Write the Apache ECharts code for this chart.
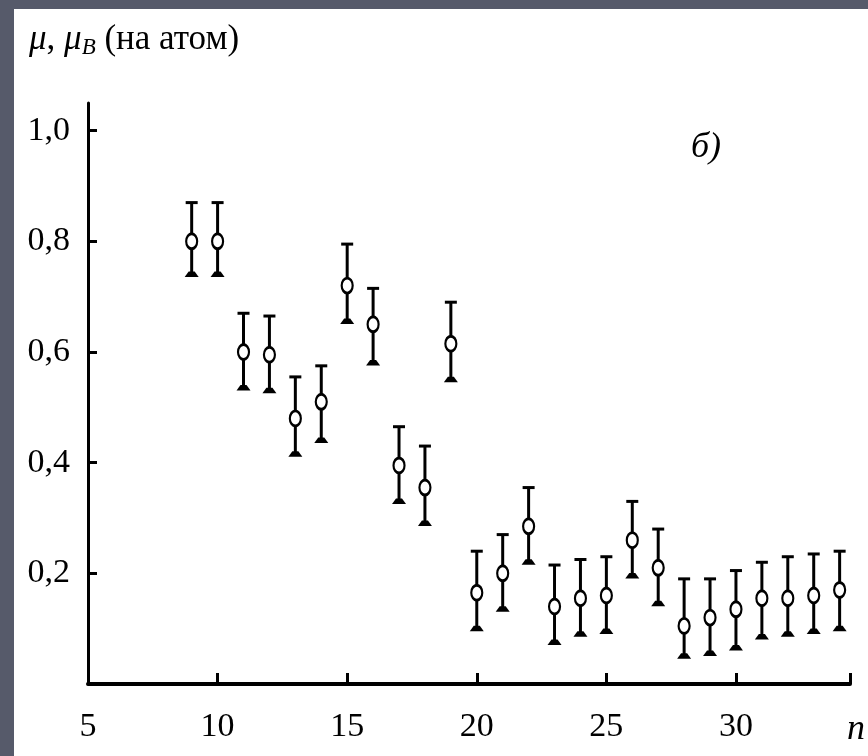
<!DOCTYPE html>
<html>
<head>
<meta charset="utf-8">
<script src="https://cdn.jsdelivr.net/npm/echarts@6/dist/echarts.min.js"></script>
<style>
  html, body { margin: 0; padding: 0; width: 868px; height: 756px; background: #565a6a; overflow: hidden; }
  #c { position: absolute; left: 14px; top: 9px; width: 854px; height: 747px; background: #fff; }
</style>
</head>
<body>
<div id="c"></div>
<script>
// Cluster size n
const nValues = [9, 10, 11, 12, 13, 14, 15, 16, 17, 18, 19, 20, 21, 22, 23, 24, 25, 26, 27, 28, 29, 30, 31, 32, 33, 34];
// Magnetic moment per atom (mu_B)
const muValues = [0.80, 0.80, 0.60, 0.595, 0.48, 0.51, 0.72, 0.65, 0.395, 0.355, 0.615, 0.165, 0.20, 0.285, 0.14, 0.155, 0.16, 0.26, 0.21, 0.105, 0.12, 0.135, 0.155, 0.155, 0.16, 0.17];
// Upper error bound
const upperValues = [0.87, 0.87, 0.67, 0.665, 0.555, 0.575, 0.795, 0.715, 0.465, 0.43, 0.69, 0.24, 0.27, 0.355, 0.215, 0.225, 0.23, 0.33, 0.28, 0.19, 0.19, 0.205, 0.22, 0.23, 0.235, 0.24];
// Lower error bound
const lowerValues = [0.74, 0.74, 0.535, 0.53, 0.415, 0.44, 0.655, 0.58, 0.33, 0.29, 0.55, 0.10, 0.135, 0.22, 0.075, 0.09, 0.095, 0.195, 0.145, 0.05, 0.055, 0.065, 0.085, 0.09, 0.095, 0.10];
// Axis tick labels
const xTicks = [5, 10, 15, 20, 25, 30];
const yTicks = [0.2, 0.4, 0.6, 0.8, 1.0];

const FONT = '"Liberation Serif", "DejaVu Serif", serif';

const chart = echarts.init(document.getElementById('c'), null, { renderer: 'canvas' });

function renderErrorBar(params, api) {
  const x = api.value(0);
  const lo = api.coord([x, api.value(1)]);
  const hi = api.coord([x, api.value(2)]);
  return {
    type: 'group',
    children: [
      { type: 'line', shape: { x1: lo[0], y1: lo[1], x2: hi[0], y2: hi[1] }, style: { stroke: '#000', lineWidth: 3 } },
      { type: 'line', shape: { x1: hi[0] - 6, y1: hi[1], x2: hi[0] + 6, y2: hi[1] }, style: { stroke: '#000', lineWidth: 3 } },
      { type: 'polygon', shape: { points: [[lo[0] - 7, lo[1] + 2.5], [lo[0] + 7, lo[1] + 2.5], [lo[0] + 3, lo[1] - 3], [lo[0] - 3, lo[1] - 3]] }, style: { fill: '#000' } }
    ]
  };
}

const option = {
  backgroundColor: '#fff',
  animation: false,
  title: [
    {
      text: '{i|μ}{n|, }{i|μ}{s|B}{n| (на атом)}',
      left: 10, top: 6,
      textStyle: {
        fontWeight: 'normal',
        rich: {
          i: { fontFamily: FONT, fontStyle: 'italic', fontWeight: 'normal', fontSize: 35, color: '#000' },
          n: { fontFamily: FONT, fontWeight: 'normal', fontSize: 35, color: '#000' },
          s: { fontFamily: FONT, fontStyle: 'italic', fontWeight: 'normal', fontSize: 23, color: '#000', padding: [16, 0, 0, 0] }
        }
      }
    },
    {
      text: 'б)',
      left: 672, top: 116,
      textStyle: { fontFamily: FONT, fontStyle: 'italic', fontSize: 36, fontWeight: 'normal', color: '#000' }
    },
    {
      text: 'n',
      left: 828, top: 698,
      textStyle: { fontFamily: FONT, fontStyle: 'italic', fontSize: 36, fontWeight: 'normal', color: '#000' }
    }
  ],
  grid: { left: 74, top: 94, right: 18, bottom: 72, containLabel: false },
  xAxis: {
    type: 'value',
    min: 5, max: 34.4,
    axisLine: { lineStyle: { color: '#000', width: 4 } },
    axisTick: { show: true, inside: true, length: 11, lineStyle: { color: '#000', width: 3 }, customValues: [10, 15, 20, 25, 30, 34.4] },
    axisLabel: { customValues: xTicks, margin: 26, fontFamily: FONT, fontSize: 34, color: '#000', formatter: v => String(v) },
    splitLine: { show: false }
  },
  yAxis: {
    type: 'value',
    min: 0, max: 1.05,
    axisLine: { lineStyle: { color: '#000', width: 3 } },
    axisTick: { show: true, inside: true, length: 9, lineStyle: { color: '#000', width: 3 }, customValues: yTicks },
    axisLabel: { customValues: yTicks, margin: 18, fontFamily: FONT, fontSize: 34, color: '#000', formatter: v => v.toFixed(1).replace('.', ',') },
    splitLine: { show: false }
  },
  series: [
    {
      type: 'custom',
      renderItem: renderErrorBar,
      data: nValues.map((n, i) => [n, lowerValues[i], upperValues[i]]),
      encode: { x: 0, y: [1, 2] },
      z: 2
    },
    {
      type: 'scatter',
      data: nValues.map((n, i) => [n, muValues[i]]),
      symbol: 'path://M0,-7A5,7 0 1,0 0,7A5,7 0 1,0 0,-7Z',
      symbolSize: [11, 15],
      itemStyle: { color: '#fff', borderColor: '#000', borderWidth: 2.5, opacity: 1 },
      z: 3
    }
  ]
};

chart.setOption(option);
</script>
</body>
</html>
